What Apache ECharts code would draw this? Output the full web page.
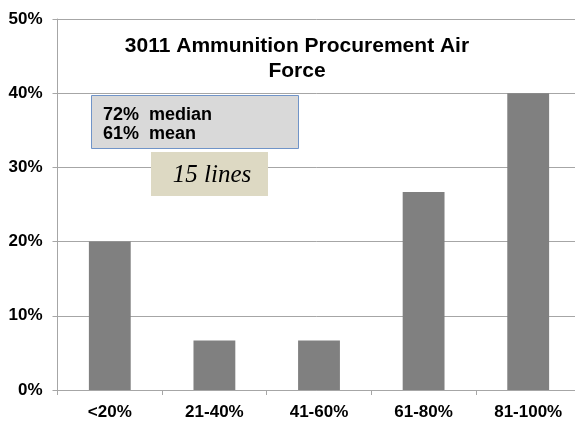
<!DOCTYPE html>
<html>
<head>
<meta charset="utf-8">
<script src="https://cdn.jsdelivr.net/npm/echarts@6/dist/echarts.min.js"></script>
<style>
  html, body { margin: 0; padding: 0; background: #fff; }
  #chart { width: 575px; height: 422px; }
</style>
</head>
<body>
<div id="chart"></div>
<script>
// bins of accuracy and share of lines in each
var categories = ['<20%', '21-40%', '41-60%', '61-80%', '81-100%']
var shares = [20, 6.67, 6.67, 26.67, 40]
var yTicks = [0, 10, 20, 30, 40, 50]
var titleLines = ['3011 Ammunition Procurement Air', 'Force']
var statLines = ['72%  median', '61%  mean']
var countLabel = '15 lines'

var font = 'Liberation Sans, Arial, sans-serif'
var chart = echarts.init(document.getElementById('chart'))
chart.setOption({
  backgroundColor: '#fff',
  animation: false,
  title: {
    text: titleLines.join('\n'),
    left: 292,
    top: 29,
    textAlign: 'center',
    textStyle: {
      fontFamily: font,
      fontSize: 21,
      fontWeight: 'bold',
      color: '#000',
      lineHeight: 25
    }
  },
  grid: {
    left: 57.5,
    width: 523,
    top: 19,
    bottom: 32,
    outerBoundsMode: 'none'
  },
  xAxis: {
    type: 'category',
    data: categories,
    axisLine: { lineStyle: { color: '#a6a6a6', width: 1 } },
    axisTick: { show: true, length: 5, lineStyle: { color: '#a6a6a6' } },
    axisLabel: {
      fontFamily: font,
      fontSize: 17,
      fontWeight: 'bold',
      color: '#000',
      margin: 14
    }
  },
  yAxis: {
    type: 'value',
    min: yTicks[0],
    max: yTicks[yTicks.length - 1],
    interval: 10,
    axisLine: { show: true, lineStyle: { color: '#a6a6a6', width: 1 } },
    axisTick: { show: true, length: 5, lineStyle: { color: '#a6a6a6' } },
    splitLine: { lineStyle: { color: '#a6a6a6', width: 1 } },
    axisLabel: {
      formatter: '{value}%',
      fontFamily: font,
      fontSize: 17,
      fontWeight: 'bold',
      color: '#000',
      margin: 15
    }
  },
  graphic: [
    {
      type: 'rect',
      shape: { x: 91.5, y: 95.5, width: 207, height: 53 },
      style: { fill: '#d9d9d9', stroke: '#7094c8', lineWidth: 1 },
      z: 10
    },
    {
      type: 'text',
      x: 103,
      y: 115,
      style: {
        text: statLines[0],
        font: 'bold 18px ' + font,
        fill: '#000',
        verticalAlign: 'middle'
      },
      z: 11
    },
    {
      type: 'text',
      x: 103,
      y: 134,
      style: {
        text: statLines[1],
        font: 'bold 18px ' + font,
        fill: '#000',
        verticalAlign: 'middle'
      },
      z: 11
    },
    {
      type: 'rect',
      shape: { x: 151, y: 152, width: 117, height: 44 },
      style: { fill: '#ddd9c3' },
      z: 10
    },
    {
      type: 'text',
      x: 212,
      y: 175,
      style: {
        text: countLabel,
        font: 'italic 25px Liberation Serif, Times New Roman, serif',
        fill: '#000',
        align: 'center',
        verticalAlign: 'middle'
      },
      z: 11
    }
  ],
  series: [{
    type: 'bar',
    data: shares,
    barWidth: '40%',
    itemStyle: { color: '#808080' }
  }]
})
</script>
</body>
</html>
